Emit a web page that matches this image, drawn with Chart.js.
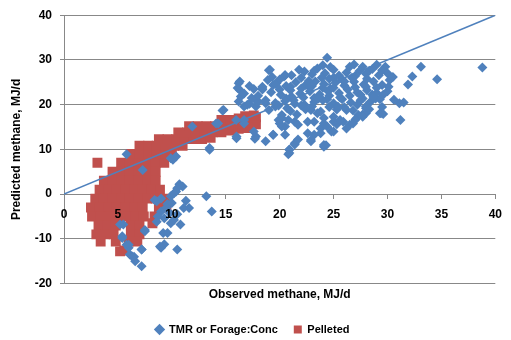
<!DOCTYPE html>
<html><head><meta charset="utf-8">
<script src="https://cdn.jsdelivr.net/npm/chart.js@4/dist/chart.umd.min.js"></script>
<style>html,body{margin:0;padding:0;background:#fff}</style>
</head><body>
<canvas id="c" width="511" height="340"></canvas>
<script>
// Observed (x) vs predicted (y) methane, MJ/d
const tmrPoints = [
 [5.8,8.9],[7.3,5.4],[10.1,7.7],[10.4,8.4],[9.9,8.0],[10.4,0.6],[11.0,1.7],[10.7,2.2],[10.5,1.3],[8.4,-1.3],[13.2,-0.5],
 [11.6,-3.1],[13.7,-3.9],[10.5,-12.4],[8.9,-11.7],[9.3,-11.2],[9.0,-12.0],[9.2,-8.7],[9.6,-8.7],[9.9,-6.5],[7.2,-12.4],[7.2,-16.1],[6.6,-15.0],
 [6.1,-13.5],[6.3,-13.9],[7.5,-8.3],[7.5,-8.0],[5.4,-9.4],[5.4,-9.8],[5.8,-11.3],[6.0,-12.0],[8.6,-1.6],[9.0,-3.9],[9.3,-5.4],[9.9,-0.5],[10.2,0.2],[5.5,-6.8],
 [11.1,-3.1],[6.0,-11.3],[9.6,-2.2],[9.0,-1.0],[10.0,-2.0],[9.5,-3.0],[11.3,-1.5],[5.2,-6.8],[10.5,-4.5],[10.8,-6.8],[6.5,-14.0],
 [8.7,-5.0],[9.8,-4.2],[10.2,-5.8],[8.6,-6.2],[7.2,-12.4],
 [11.9,15.1],[13.5,9.9],[13.5,10.3],[14.1,15.8],[14.3,15.8],[14.7,18.7],[14.8,18.8],[16.0,12.5],[16.0,12.9],[16.2,24.8],[16.3,25.2],[16.3,23.3],[16.1,23.7],[16.4,21.8],[16.2,20.7],
 [15.96,16.6],[16.7,16.6],[16.7,15.8],[16.7,19.6],[17.7,12.4],[17.0,20.0],[17.8,19.6],[18.4,24.0],[18.4,23.4],[17.2,20.2],[18.0,20.7],[19.0,27.7],[20.4,26.3],
 [19.7,24.8],[17.8,12.9],[18.7,11.8],[19.4,13.3],[20.8,8.9],[20.9,9.9],[21.4,11.1],[22.9,11.8],[24.3,10.9],[23.2,13.3],[24.8,14.0],
 [25.9,16.2],[27.1,16.9],[27.7,17.8],[29.6,17.9],[31.2,16.6],[21.4,16.2],[20.2,17.0],[22.6,16.2],[23.8,14.7],[25.3,15.6],
 [26.5,15.5],[28.0,18.1],[24.1,17.0],[20.2,15.1],[20.9,9.2],[24.4,30.5],[33.1,28.5],[38.8,28.3],[34.6,25.7],[32.3,26.3],
 [31.9,24.5],[31.1,20.3],[30.6,21.1],[31.5,20.5],[28.9,21.4],[29.3,18.1],[27.3,17.7],[27.0,16.6],[25.0,16.2],[24.1,15.8],
 [23.5,18.1],[22.3,20.0],[21.7,15.5],[20.8,16.6],[22.9,12.1],[24.1,10.6],[21.4,11.4],[23.8,13.6],[25.0,14.0],[26.2,14.7],
 [27.7,21.4],[28.6,22.2],[28.0,19.2],[21.1,21.8],
 [22.6,13.6],[21.7,12.2],[20.9,10.0],[24.1,11.0],[24.4,15.1],[25.6,16.6],[26.8,15.8],[27.7,17.3],[29.4,18.1],[19.9,16.6],
 [20.5,15.1],[23.2,16.2],[25.0,17.3],[22.9,18.8],[26.2,18.8],[28.0,19.6],[28.7,21.8],[20.5,13.3],[19.4,13.3],[17.6,14.0],
 [20.0,15.8],[20.2,17.7],[19.6,19.6],[18.7,20.3],[17.9,20.7],[18.4,23.7],[19.4,24.4],[20.5,26.6],[19.1,27.8],
 [22.3,27.4],[23.5,28.1],[25.0,27.8],[26.5,28.5],[27.7,28.5],[29.0,28.9],[29.8,28.5],[24.0,28.8],[28.3,27.6],
 [20.5,26.6],[21.1,26.6],[22.0,26.0],[23.0,26.8],[24.2,27.0],[25.5,26.5],[26.2,27.2],[27.0,26.4],[28.0,26.9],[29.2,26.6],[30.0,27.0],[25.0,26.0],
 [19.6,24.6],[20.6,24.2],[21.5,25.0],[22.4,24.4],[23.3,25.2],[24.1,24.6],[25.2,25.0],[26.0,24.3],[26.9,25.1],[27.8,24.5],[28.7,25.2],[29.5,24.4],[30.2,25.5],[22.8,23.8],[24.7,23.6],
 [19.2,22.8],[20.1,22.2],[21.0,23.2],[21.9,22.5],[22.8,23.0],[23.7,22.3],[24.5,23.0],[25.5,22.6],[26.3,23.4],[27.2,22.7],[28.1,23.2],[29.0,22.6],[30.0,23.0],[20.6,21.4],[23.2,21.5],
 [18.7,21.0],[19.6,20.4],[20.5,20.8],[21.4,20.2],[23.2,20.6],[24.0,21.0],[25.0,20.3],[25.8,21.2],[26.6,20.5],[27.5,21.0],[28.4,20.6],[29.3,21.2],[24.6,19.5],[26.0,19.4],
 [19.0,18.8],[21.0,18.6],[22.4,19.0],[23.8,18.5],[25.3,18.9],[26.8,18.7],[28.3,19.0],[29.5,19.5],
 [17.4,21.5],[18.0,22.0],[17.6,23.5],[18.9,25.5],[19.3,26.2],[16.7,22.5],[17.2,24.2],
 [20.0,25.6],[21.8,27.8],[22.7,25.3],[23.9,26.0],[24.6,25.8],[25.8,25.6],[26.7,26.0],[27.4,27.5],[28.6,28.0],[29.5,27.7],
 [30.5,26.2],[21.0,24.0],[22.0,23.6],[23.0,24.2],[24.0,23.8],[25.0,23.8],[26.0,25.2],[27.0,23.9],[28.0,24.0],[29.0,23.8],
 [30.1,24.0],[20.0,23.4],[21.3,21.0],[22.2,21.6],[23.6,21.4],[24.6,22.0],[25.6,21.6],[26.5,22.0],[27.5,22.2],[28.7,21.7],
 [29.6,22.2],[22.0,19.8],[23.0,19.6],[27.2,20.0],[25.4,19.6],[19.9,19.8],[20.7,19.2],[21.6,17.8],[24.4,21.2],[28.1,25.8],
 [24.7,28.4],[26.9,29.0],[23.2,27.6]
];
const pelletedPoints = [
 [3.1,7.0],[5.3,7.0],[6.1,7.0],[6.9,7.0],[7.7,7.0],[8.5,7.0],[9.3,7.0],
 [6.2,9.0],[7.0,9.0],[7.8,9.0],[8.6,9.0],[9.4,9.0],[10.0,9.0],
 [7.0,10.8],[7.8,10.8],[8.6,10.8],[9.4,10.8],[10.2,10.8],[11.0,10.8],
 [8.8,12.3],[9.6,12.3],[10.4,12.3],[11.2,12.3],[12.0,12.3],[12.8,12.3],[13.6,12.6],
 [10.6,13.8],[11.4,13.8],[12.2,13.8],[13.0,13.8],[13.8,13.8],[14.6,13.8],[15.4,14.2],[16.2,14.6],[17.0,14.8],
 [11.6,15.2],[12.4,15.2],[13.2,15.2],[14.0,15.2],[14.8,15.2],[15.6,15.6],[16.4,15.8],[17.2,16.0],[17.8,15.6],
 [14.6,16.6],[15.4,16.6],[16.2,16.9],[17.0,17.1],[17.8,17.2],[16.8,17.4],[17.6,17.6],
 [4.5,5.0],[5.3,5.0],[6.1,5.0],[6.9,5.0],[7.7,5.0],[8.5,5.0],
 [3.7,3.0],[4.5,3.0],[5.3,3.0],[6.1,3.0],[6.9,3.0],[7.7,3.0],[8.5,3.0],
 [3.3,1.0],[4.1,1.0],[4.9,1.0],[5.7,1.0],[6.5,1.0],[7.3,1.0],[8.1,1.0],[8.9,1.0],
 [2.9,-1.0],[3.7,-1.0],[4.5,-1.0],[5.3,-1.0],[6.1,-1.0],[6.9,-1.0],[7.7,-1.0],[8.5,-1.0],[9.4,-1.0],
 [2.5,-3.0],[3.3,-3.0],[4.1,-3.0],[4.9,-3.0],[5.7,-3.0],[6.5,-3.0],[7.3,-3.0],[8.8,-3.0],[9.5,-3.0],
 [2.6,-5.0],[3.4,-5.0],[4.2,-5.0],[5.0,-5.0],[5.8,-5.0],[6.6,-5.0],[7.4,-5.0],[8.4,-5.0],
 [3.2,-7.0],[4.0,-7.0],[4.8,-7.0],[6.2,-7.0],[7.0,-7.0],[8.2,-6.5],
 [3.0,-9.0],[3.8,-9.0],[4.6,-9.0],[6.2,-9.0],[7.0,-9.0],
 [3.4,-10.6],[4.8,-10.6],[6.0,-10.6],[6.8,-10.6],
 [5.2,-12.8],[5.6,-12.6]
];
const identityLineX = [0, 40];
const identityLineY = [0, 40];
const seriesNames = ['TMR or Forage:Conc', 'Pelleted'];
const xAxisTitle = 'Observed methane, MJ/d';
const yAxisTitle = 'Predicted methane, MJ/d';

const FONT = 'Liberation Sans, Arial, sans-serif';
const toXY = arr => arr.map(p => ({x: p[0], y: p[1]}));
const tickFont = { family: FONT, size: 12, weight: 'bold' };

new Chart(document.getElementById('c'), {
  type: 'scatter',
  data: {
    datasets: [
      { label: seriesNames[0], data: toXY(tmrPoints), pointStyle: 'rectRot', pointRadius: 5,
        backgroundColor: '#4F81BD', borderColor: '#4F81BD', borderWidth: 0, order: 1 },
      { label: seriesNames[1], data: toXY(pelletedPoints), pointStyle: 'rect', pointRadius: 7,
        backgroundColor: '#C0504D', borderColor: '#C0504D', borderWidth: 0, order: 2 },
      { label: '1:1', data: identityLineX.map((x, i) => ({x, y: identityLineY[i]})), showLine: true,
        pointRadius: 0, borderColor: '#4F81BD', borderWidth: 1.5, order: 0 }
    ]
  },
  options: {
    responsive: false, animation: false,
    layout: { padding: { top: 11, right: 6, bottom: -5, left: 0 } },
    plugins: {
      tooltip: { enabled: false },
      legend: {
        position: 'bottom',
        labels: {
          usePointStyle: true, boxWidth: 8, boxHeight: 8, padding: 16, color: '#000',
          font: { family: FONT, size: 11, weight: 'bold' },
          filter: item => item.datasetIndex !== 2,
          sort: (a, b) => a.datasetIndex - b.datasetIndex
        }
      }
    },
    scales: {
      x: {
        type: 'linear', position: 'bottom', min: 0, max: 40,
        ticks: { display: false }, grid: { display: false, drawTicks: false }, border: { display: false },
        title: { display: true, text: xAxisTitle, color: '#000', font: tickFont, padding: { top: 4, bottom: 6 } }
      },
      x2: {
        type: 'linear', position: { y: 0 }, min: 0, max: 40,
        ticks: { stepSize: 5, padding: 9, color: '#000', font: tickFont, z: 1 },
        grid: { drawOnChartArea: false, drawTicks: true, tickLength: 4, color: '#888' },
        border: { color: '#888', width: 1 }
      },
      y: {
        type: 'linear', min: -20, max: 40,
        ticks: { stepSize: 10, padding: 8, color: '#000', font: tickFont },
        grid: { color: '#888', tickLength: 4, lineWidth: 1 },
        border: { color: '#888', width: 1 },
        title: { display: true, text: yAxisTitle, color: '#000', font: tickFont, padding: { top: 9, bottom: 4 } },
        afterFit: s => { s.width = 64; }
      }
    }
  }
});
</script>
</body></html>
